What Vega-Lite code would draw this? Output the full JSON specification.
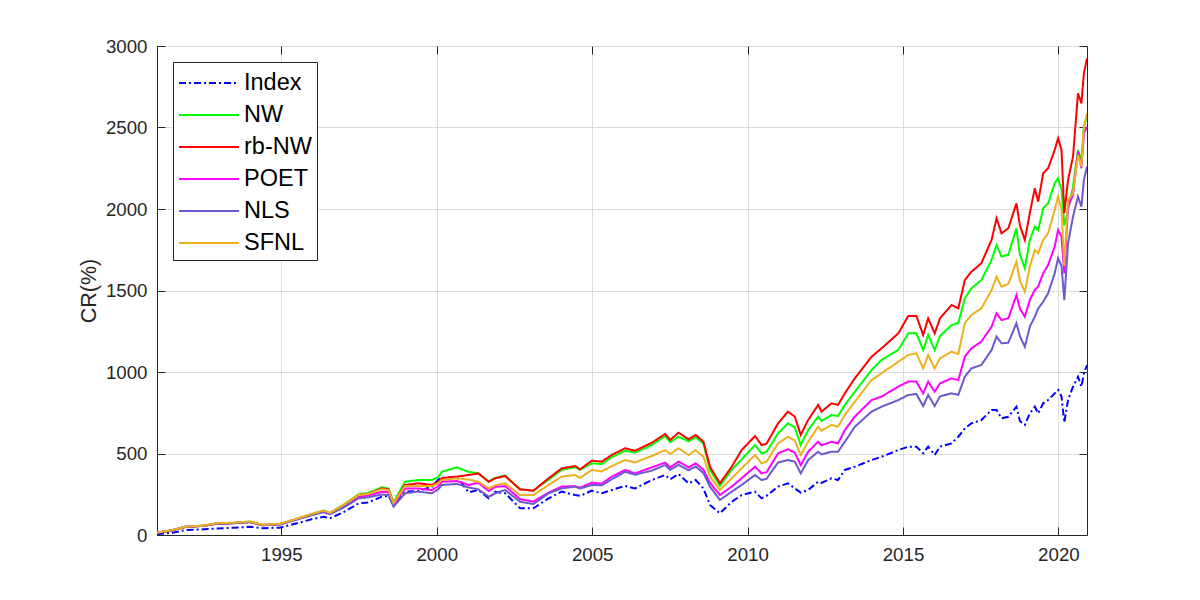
{
  "$schema": "https://vega.github.io/schema/vega-lite/v6.json",
  "width": 930,
  "height": 489,
  "autosize": {"type": "none"},
  "padding": {"left": 157, "top": 46, "right": 113, "bottom": 65},
  "background": "white",
  "config": {
    "view": {"stroke": "#262626", "strokeWidth": 1},
    "font": "Liberation Sans",
    "axis": {
      "domainColor": "#262626",
      "tickColor": "#262626",
      "labelColor": "#262626",
      "titleColor": "#262626",
      "labelFont": "Liberation Sans",
      "titleFont": "Liberation Sans",
      "labelFontSize": 18.7,
      "titleFontSize": 21.5,
      "titleFontWeight": "normal",
      "gridColor": "#DCDCDC",
      "gridOpacity": 1,
      "gridWidth": 1
    }
  },
  "data": {
    "values": [
      {"t": 1991.0, "Index": 5, "NW": 15, "rb-NW": 15, "POET": 14, "NLS": 13, "SFNL": 15},
      {"t": 1991.5, "Index": 14, "NW": 30, "rb-NW": 28, "POET": 30, "NLS": 29, "SFNL": 30},
      {"t": 1991.9, "Index": 30, "NW": 50, "rb-NW": 48, "POET": 50, "NLS": 50, "SFNL": 50},
      {"t": 1992.5, "Index": 35, "NW": 58, "rb-NW": 56, "POET": 57, "NLS": 56, "SFNL": 58},
      {"t": 1992.9, "Index": 40, "NW": 70, "rb-NW": 68, "POET": 70, "NLS": 68, "SFNL": 72},
      {"t": 1993.5, "Index": 45, "NW": 75, "rb-NW": 73, "POET": 74, "NLS": 72, "SFNL": 76},
      {"t": 1994.0, "Index": 50, "NW": 82, "rb-NW": 80, "POET": 80, "NLS": 78, "SFNL": 83},
      {"t": 1994.4, "Index": 42, "NW": 62, "rb-NW": 60, "POET": 62, "NLS": 60, "SFNL": 63},
      {"t": 1994.95, "Index": 45, "NW": 67, "rb-NW": 66, "POET": 66, "NLS": 64, "SFNL": 68},
      {"t": 1995.5, "Index": 72, "NW": 100, "rb-NW": 98, "POET": 97, "NLS": 95, "SFNL": 100},
      {"t": 1996.0, "Index": 98, "NW": 130, "rb-NW": 128, "POET": 126, "NLS": 122, "SFNL": 130},
      {"t": 1996.36, "Index": 112, "NW": 150, "rb-NW": 148, "POET": 145, "NLS": 140, "SFNL": 150},
      {"t": 1996.56, "Index": 102, "NW": 135, "rb-NW": 133, "POET": 130, "NLS": 127, "SFNL": 135},
      {"t": 1997.0, "Index": 140, "NW": 185, "rb-NW": 182, "POET": 178, "NLS": 168, "SFNL": 184},
      {"t": 1997.49, "Index": 194, "NW": 250, "rb-NW": 245, "POET": 235, "NLS": 225, "SFNL": 245},
      {"t": 1997.8, "Index": 200, "NW": 258, "rb-NW": 252, "POET": 242, "NLS": 232, "SFNL": 252},
      {"t": 1998.23, "Index": 235, "NW": 292, "rb-NW": 286, "POET": 265, "NLS": 248, "SFNL": 282},
      {"t": 1998.45, "Index": 240, "NW": 285, "rb-NW": 280, "POET": 262, "NLS": 245, "SFNL": 275},
      {"t": 1998.61, "Index": 180, "NW": 200, "rb-NW": 194, "POET": 185, "NLS": 174, "SFNL": 195},
      {"t": 1998.98, "Index": 266, "NW": 327, "rb-NW": 307, "POET": 285, "NLS": 256, "SFNL": 300},
      {"t": 1999.4, "Index": 270, "NW": 337, "rb-NW": 317, "POET": 286, "NLS": 266, "SFNL": 301},
      {"t": 1999.84, "Index": 295, "NW": 337, "rb-NW": 307, "POET": 275, "NLS": 256, "SFNL": 300},
      {"t": 2000.05, "Index": 340, "NW": 355, "rb-NW": 325, "POET": 300, "NLS": 280, "SFNL": 318},
      {"t": 2000.16, "Index": 350, "NW": 388, "rb-NW": 348, "POET": 327, "NLS": 307, "SFNL": 337},
      {"t": 2000.65, "Index": 358, "NW": 415, "rb-NW": 358, "POET": 331, "NLS": 313, "SFNL": 348},
      {"t": 2001.02, "Index": 262, "NW": 388, "rb-NW": 368, "POET": 307, "NLS": 292, "SFNL": 340},
      {"t": 2001.34, "Index": 276, "NW": 378, "rb-NW": 378, "POET": 320, "NLS": 280, "SFNL": 327},
      {"t": 2001.67, "Index": 225, "NW": 327, "rb-NW": 327, "POET": 270, "NLS": 235, "SFNL": 286},
      {"t": 2001.88, "Index": 265, "NW": 350, "rb-NW": 348, "POET": 295, "NLS": 256, "SFNL": 305},
      {"t": 2002.2, "Index": 256, "NW": 365, "rb-NW": 362, "POET": 300, "NLS": 276, "SFNL": 317},
      {"t": 2002.68, "Index": 164, "NW": 280, "rb-NW": 280, "POET": 220, "NLS": 204, "SFNL": 245},
      {"t": 2003.11, "Index": 164, "NW": 272, "rb-NW": 272, "POET": 205, "NLS": 190, "SFNL": 245},
      {"t": 2003.6, "Index": 225, "NW": 340, "rb-NW": 348, "POET": 260, "NLS": 256, "SFNL": 307},
      {"t": 2004.02, "Index": 266, "NW": 400, "rb-NW": 409, "POET": 297, "NLS": 286, "SFNL": 358},
      {"t": 2004.45, "Index": 245, "NW": 415, "rb-NW": 423, "POET": 300, "NLS": 297, "SFNL": 368},
      {"t": 2004.61, "Index": 240, "NW": 400, "rb-NW": 403, "POET": 290, "NLS": 285, "SFNL": 350},
      {"t": 2004.99, "Index": 272, "NW": 440, "rb-NW": 456, "POET": 321, "NLS": 307, "SFNL": 399},
      {"t": 2005.31, "Index": 256, "NW": 435, "rb-NW": 450, "POET": 315, "NLS": 305, "SFNL": 390},
      {"t": 2005.63, "Index": 276, "NW": 477, "rb-NW": 491, "POET": 358, "NLS": 342, "SFNL": 423},
      {"t": 2006.06, "Index": 301, "NW": 517, "rb-NW": 532, "POET": 399, "NLS": 388, "SFNL": 460},
      {"t": 2006.38, "Index": 286, "NW": 505, "rb-NW": 517, "POET": 378, "NLS": 370, "SFNL": 445},
      {"t": 2006.92, "Index": 337, "NW": 552, "rb-NW": 566, "POET": 415, "NLS": 395, "SFNL": 485},
      {"t": 2007.35, "Index": 368, "NW": 607, "rb-NW": 620, "POET": 444, "NLS": 429, "SFNL": 521},
      {"t": 2007.51, "Index": 342, "NW": 570, "rb-NW": 583, "POET": 415, "NLS": 400, "SFNL": 497},
      {"t": 2007.78, "Index": 374, "NW": 603, "rb-NW": 628, "POET": 450, "NLS": 430, "SFNL": 532},
      {"t": 2008.1, "Index": 317, "NW": 575, "rb-NW": 587, "POET": 415, "NLS": 398, "SFNL": 491},
      {"t": 2008.33, "Index": 337, "NW": 600, "rb-NW": 614, "POET": 440, "NLS": 420, "SFNL": 521},
      {"t": 2008.58, "Index": 286, "NW": 560, "rb-NW": 572, "POET": 400, "NLS": 380, "SFNL": 480},
      {"t": 2008.79, "Index": 184, "NW": 400, "rb-NW": 419, "POET": 320, "NLS": 297, "SFNL": 360},
      {"t": 2009.11, "Index": 133, "NW": 301, "rb-NW": 317, "POET": 245, "NLS": 215, "SFNL": 276},
      {"t": 2009.49, "Index": 204, "NW": 400, "rb-NW": 419, "POET": 297, "NLS": 266, "SFNL": 348},
      {"t": 2009.81, "Index": 245, "NW": 464, "rb-NW": 521, "POET": 348, "NLS": 307, "SFNL": 409},
      {"t": 2010.24, "Index": 266, "NW": 552, "rb-NW": 607, "POET": 419, "NLS": 368, "SFNL": 491},
      {"t": 2010.45, "Index": 225, "NW": 501, "rb-NW": 552, "POET": 378, "NLS": 337, "SFNL": 440},
      {"t": 2010.61, "Index": 240, "NW": 510, "rb-NW": 560, "POET": 385, "NLS": 345, "SFNL": 450},
      {"t": 2010.98, "Index": 297, "NW": 624, "rb-NW": 685, "POET": 501, "NLS": 444, "SFNL": 562},
      {"t": 2011.3, "Index": 317, "NW": 685, "rb-NW": 757, "POET": 526, "NLS": 460, "SFNL": 603},
      {"t": 2011.52, "Index": 286, "NW": 660, "rb-NW": 726, "POET": 505, "NLS": 450, "SFNL": 580},
      {"t": 2011.71, "Index": 260, "NW": 552, "rb-NW": 614, "POET": 429, "NLS": 378, "SFNL": 491},
      {"t": 2011.95, "Index": 276, "NW": 644, "rb-NW": 706, "POET": 511, "NLS": 460, "SFNL": 572},
      {"t": 2012.27, "Index": 327, "NW": 726, "rb-NW": 798, "POET": 572, "NLS": 511, "SFNL": 664},
      {"t": 2012.38, "Index": 320, "NW": 700, "rb-NW": 757, "POET": 550, "NLS": 495, "SFNL": 640},
      {"t": 2012.7, "Index": 348, "NW": 736, "rb-NW": 808, "POET": 572, "NLS": 511, "SFNL": 675},
      {"t": 2012.91, "Index": 337, "NW": 730, "rb-NW": 798, "POET": 562, "NLS": 511, "SFNL": 665},
      {"t": 2013.13, "Index": 399, "NW": 798, "rb-NW": 869, "POET": 644, "NLS": 572, "SFNL": 736},
      {"t": 2013.45, "Index": 419, "NW": 879, "rb-NW": 961, "POET": 726, "NLS": 664, "SFNL": 818},
      {"t": 2013.99, "Index": 460, "NW": 1012, "rb-NW": 1094, "POET": 828, "NLS": 757, "SFNL": 951},
      {"t": 2014.31, "Index": 480, "NW": 1074, "rb-NW": 1145, "POET": 849, "NLS": 787, "SFNL": 992},
      {"t": 2014.85, "Index": 521, "NW": 1135, "rb-NW": 1237, "POET": 910, "NLS": 828, "SFNL": 1063},
      {"t": 2015.17, "Index": 542, "NW": 1237, "rb-NW": 1344, "POET": 941, "NLS": 859, "SFNL": 1104},
      {"t": 2015.43, "Index": 542, "NW": 1237, "rb-NW": 1344, "POET": 941, "NLS": 865, "SFNL": 1115},
      {"t": 2015.65, "Index": 501, "NW": 1135, "rb-NW": 1227, "POET": 869, "NLS": 791, "SFNL": 1022},
      {"t": 2015.81, "Index": 542, "NW": 1227, "rb-NW": 1329, "POET": 941, "NLS": 859, "SFNL": 1104},
      {"t": 2016.02, "Index": 491, "NW": 1135, "rb-NW": 1237, "POET": 879, "NLS": 791, "SFNL": 1022},
      {"t": 2016.19, "Index": 542, "NW": 1220, "rb-NW": 1329, "POET": 930, "NLS": 850, "SFNL": 1084},
      {"t": 2016.56, "Index": 562, "NW": 1288, "rb-NW": 1411, "POET": 961, "NLS": 869, "SFNL": 1125},
      {"t": 2016.78, "Index": 603, "NW": 1300, "rb-NW": 1390, "POET": 950, "NLS": 860, "SFNL": 1110},
      {"t": 2016.99, "Index": 654, "NW": 1452, "rb-NW": 1564, "POET": 1094, "NLS": 971, "SFNL": 1299},
      {"t": 2017.2, "Index": 685, "NW": 1513, "rb-NW": 1615, "POET": 1145, "NLS": 1022, "SFNL": 1350},
      {"t": 2017.52, "Index": 705, "NW": 1564, "rb-NW": 1667, "POET": 1186, "NLS": 1043, "SFNL": 1390},
      {"t": 2017.85, "Index": 767, "NW": 1687, "rb-NW": 1810, "POET": 1278, "NLS": 1135, "SFNL": 1503},
      {"t": 2018.01, "Index": 767, "NW": 1779, "rb-NW": 1943, "POET": 1360, "NLS": 1217, "SFNL": 1585},
      {"t": 2018.17, "Index": 716, "NW": 1708, "rb-NW": 1851, "POET": 1319, "NLS": 1176, "SFNL": 1523},
      {"t": 2018.39, "Index": 725, "NW": 1720, "rb-NW": 1882, "POET": 1330, "NLS": 1180, "SFNL": 1540},
      {"t": 2018.65, "Index": 787, "NW": 1882, "rb-NW": 2035, "POET": 1472, "NLS": 1299, "SFNL": 1677},
      {"t": 2018.76, "Index": 700, "NW": 1720, "rb-NW": 1900, "POET": 1390, "NLS": 1220, "SFNL": 1560},
      {"t": 2018.92, "Index": 675, "NW": 1636, "rb-NW": 1810, "POET": 1339, "NLS": 1155, "SFNL": 1493},
      {"t": 2019.08, "Index": 746, "NW": 1810, "rb-NW": 1974, "POET": 1442, "NLS": 1278, "SFNL": 1646},
      {"t": 2019.24, "Index": 787, "NW": 1892, "rb-NW": 2127, "POET": 1503, "NLS": 1339, "SFNL": 1748},
      {"t": 2019.35, "Index": 746, "NW": 1870, "rb-NW": 2045, "POET": 1525, "NLS": 1390, "SFNL": 1730},
      {"t": 2019.51, "Index": 808, "NW": 2004, "rb-NW": 2219, "POET": 1605, "NLS": 1431, "SFNL": 1810},
      {"t": 2019.67, "Index": 828, "NW": 2035, "rb-NW": 2250, "POET": 1656, "NLS": 1483, "SFNL": 1851},
      {"t": 2019.88, "Index": 869, "NW": 2158, "rb-NW": 2362, "POET": 1769, "NLS": 1605, "SFNL": 1994},
      {"t": 2019.99, "Index": 890, "NW": 2188, "rb-NW": 2434, "POET": 1871, "NLS": 1698, "SFNL": 2076},
      {"t": 2020.1, "Index": 850, "NW": 2120, "rb-NW": 2362, "POET": 1830, "NLS": 1650, "SFNL": 2000},
      {"t": 2020.19, "Index": 690, "NW": 1900, "rb-NW": 1974, "POET": 1605, "NLS": 1440, "SFNL": 1650},
      {"t": 2020.31, "Index": 828, "NW": 1994, "rb-NW": 2178, "POET": 2014, "NLS": 1790, "SFNL": 2055},
      {"t": 2020.47, "Index": 910, "NW": 2137, "rb-NW": 2321, "POET": 2086, "NLS": 1953, "SFNL": 2096},
      {"t": 2020.63, "Index": 971, "NW": 2362, "rb-NW": 2710, "POET": 2352, "NLS": 2076, "SFNL": 2331},
      {"t": 2020.74, "Index": 910, "NW": 2300, "rb-NW": 2648, "POET": 2250, "NLS": 2014, "SFNL": 2260},
      {"t": 2020.82, "Index": 992, "NW": 2505, "rb-NW": 2832, "POET": 2464, "NLS": 2178, "SFNL": 2505},
      {"t": 2020.92, "Index": 1043, "NW": 2570, "rb-NW": 2924, "POET": 2505, "NLS": 2260, "SFNL": 2587}
    ]
  },
  "transform": [
    {"fold": ["Index", "NW", "rb-NW", "POET", "NLS", "SFNL"], "as": ["series", "value"]}
  ],
  "resolve": {"axis": {"x": "independent", "y": "independent"}},
  "layer": [
    {
      "mark": {"type": "line", "clip": true},
      "encoding": {
        "x": {
          "field": "t", "type": "quantitative",
          "scale": {"domain": [1991, 2020.92], "nice": false, "zero": false},
          "axis": {"orient": "bottom", "title": null, "values": [1995, 2000, 2005, 2010, 2015, 2020], "format": "d", "tickSize": -8, "labelPadding": 18, "grid": true}
        },
        "y": {
          "field": "value", "type": "quantitative",
          "scale": {"domain": [0, 3000], "nice": false},
          "axis": {"orient": "left", "title": "CR(%)", "values": [0, 500, 1000, 1500, 2000, 2500, 3000], "format": "d", "tickSize": -8, "labelPadding": 18, "titlePadding": 5, "grid": true}
        },
        "color": {
          "field": "series", "type": "nominal",
          "scale": {"domain": ["Index", "NW", "rb-NW", "POET", "NLS", "SFNL"], "range": ["#0000FF", "#00FF00", "#FF0000", "#FF00FF", "#6A5ACD", "#EDB120"]},
          "legend": {
            "title": null, "orient": "top-left", "offset": 16,
            "symbolType": "M-1,0L3,0", "symbolSize": 900,
            "labelFontSize": 23.5, "labelColor": "#000000", "labelFont": "Liberation Sans",
            "strokeColor": "#262626", "fillColor": "white", "padding": 5,
            "rowPadding": 4, "labelOffset": 34
          }
        },
        "strokeDash": {
          "field": "series", "type": "nominal",
          "scale": {"domain": ["Index", "NW", "rb-NW", "POET", "NLS", "SFNL"], "range": [[7, 3, 2, 3], [1, 0], [1, 0], [1, 0], [1, 0], [1, 0]]},
          "legend": null
        },
        "strokeWidth": {
          "field": "series", "type": "nominal",
          "scale": {"domain": ["Index", "NW", "rb-NW", "POET", "NLS", "SFNL"], "range": [2, 2, 3.8, 2, 2, 2]},
          "legend": null
        }
      }
    },
    {
      "mark": {"type": "line", "opacity": 0},
      "encoding": {
        "x": {
          "field": "t", "type": "quantitative",
          "axis": {"orient": "top", "title": null, "values": [1995, 2000, 2005, 2010, 2015, 2020], "labels": false, "domain": false, "grid": false, "tickSize": -8}
        },
        "y": {
          "field": "value", "type": "quantitative",
          "axis": {"orient": "right", "title": null, "values": [0, 500, 1000, 1500, 2000, 2500, 3000], "labels": false, "domain": false, "grid": false, "tickSize": -8}
        },
        "detail": {"field": "series"}
      }
    }
  ]
}
